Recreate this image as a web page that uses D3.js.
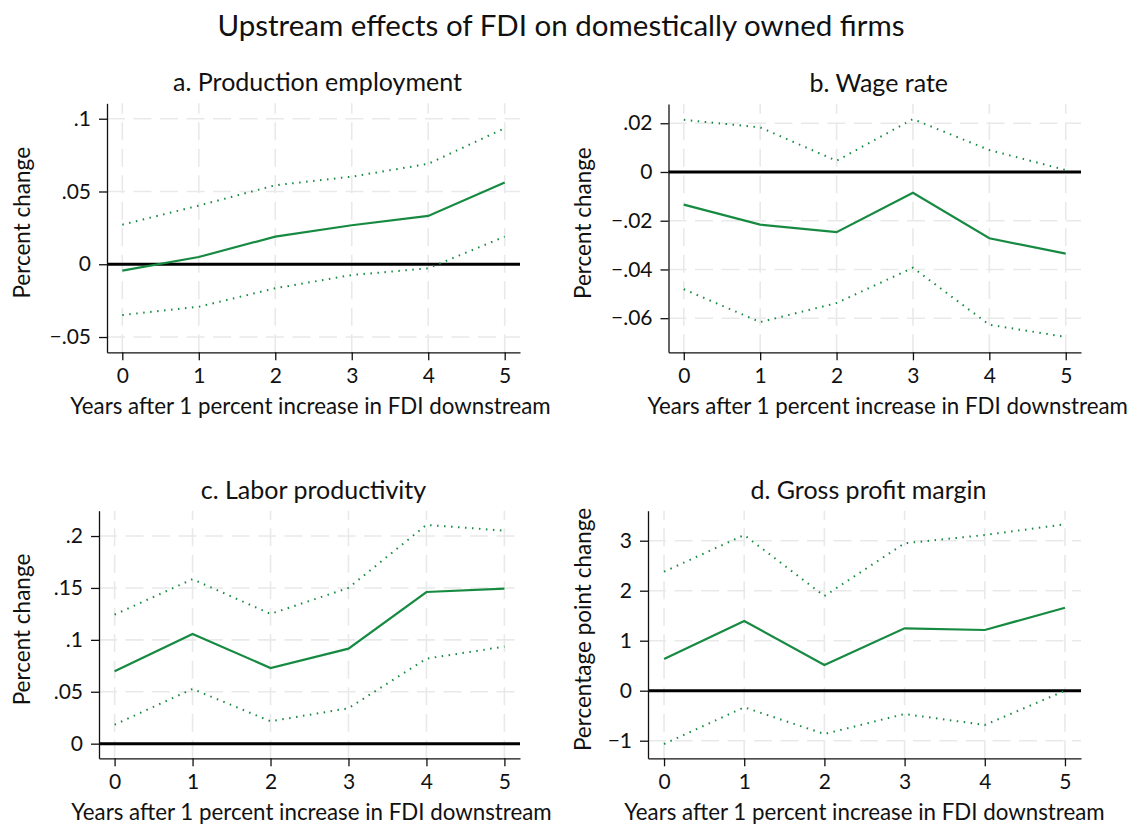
<!DOCTYPE html>
<html>
<head>
<meta charset="utf-8">
<script src="https://cdn.jsdelivr.net/npm/d3@7"></script>
<style>
  body { margin: 0; background: #fff; }
  text { font-family: Lato, "Open Sans", sans-serif; fill: #111; }
</style>
</head>
<body>
<div id="vis"></div>
<script>
// years after the increase
const years = [0, 1, 2, 3, 4, 5];

// a. production employment
const empCoef = [-0.0044, 0.005, 0.019, 0.0268, 0.0332, 0.0561];
const empHi = [0.0272, 0.0403, 0.0543, 0.0602, 0.069, 0.0935];
const empLo = [-0.0349, -0.0292, -0.0165, -0.0074, -0.0028, 0.019];
const empTicks = [-0.05, 0, 0.05, 0.1];

// b. wage rate
const wageCoef = [-0.0134, -0.0216, -0.0247, -0.0085, -0.0272, -0.0335];
const wageHi = [0.0214, 0.0183, 0.0046, 0.0217, 0.009, 0.0008];
const wageLo = [-0.0481, -0.0616, -0.0538, -0.0393, -0.0627, -0.0677];
const wageTicks = [-0.06, -0.04, -0.02, 0, 0.02];

// c. labor productivity
const prodCoef = [0.0697, 0.1057, 0.0729, 0.0915, 0.1461, 0.1493];
const prodHi = [0.1243, 0.1584, 0.125, 0.15, 0.2107, 0.2052];
const prodLo = [0.0183, 0.0527, 0.0216, 0.0341, 0.0819, 0.0935];
const prodTicks = [0, 0.05, 0.1, 0.15, 0.2];

// d. gross profit margin
const marginCoef = [0.634, 1.394, 0.514, 1.248, 1.214, 1.66];
const marginHi = [2.38, 3.114, 1.894, 2.948, 3.114, 3.328];
const marginLo = [-1.066, -0.332, -0.866, -0.466, -0.686, 0.0];
const marginTicks = [-1, 0, 1, 2, 3];

const title = "Upstream effects of FDI on domestically owned firms";
const xTitle = "Years after 1 percent increase in FDI downstream";

const W = 1133, H = 825;
const green = "#178a42";

// stata style labels: .05, -.05
const fmt = v => v === 0 ? "0" : (v < 0 ? "\u2212" : "") + String(Math.abs(v)).replace(/^0/, "");

const panels = [
  { title: "a. Production employment", yTitle: "Percent change", coef: empCoef, hi: empHi, lo: empLo,
    ticks: empTicks, yDom: [-0.0605, 0.1106], x0: 0, left: 107, right: 520, top: 103.3, bottom: 352.3, xlabDx: -3 },
  { title: "b. Wage rate", yTitle: "Percent change", coef: wageCoef, hi: wageHi, lo: wageLo,
    ticks: wageTicks, yDom: [-0.074, 0.0279], x0: 561, left: 668.5, right: 1081, top: 104, bottom: 352.3, xlabDx: 13 },
  { title: "c. Labor productivity", yTitle: "Percent change", coef: prodCoef, hi: prodHi, lo: prodLo,
    ticks: prodTicks, yDom: [-0.0141, 0.2244], x0: 0, left: 99, right: 520, top: 510.7, bottom: 758.3, xlabDx: 2 },
  { title: "d. Gross profit margin", yTitle: "Percentage point change", coef: marginCoef, hi: marginHi, lo: marginLo,
    ticks: marginTicks, yDom: [-1.352, 3.6], x0: 561, left: 648, right: 1081, top: 510.7, bottom: 758.3, xlabDx: 0 }
];

const svg = d3.select("#vis").append("svg")
  .attr("width", W)
  .attr("height", H);

svg.append("rect").attr("width", W).attr("height", H).attr("fill", "#fff");

svg.append("text")
  .attr("x", 561)
  .attr("y", 36)
  .attr("text-anchor", "middle")
  .attr("font-size", 29.5)
  .text(title);

panels.forEach(p => {
  const x = d3.scaleLinear().domain([-0.2, 5.2]).range([p.left, p.right]);
  const y = d3.scaleLinear().domain(p.yDom).range([p.bottom, p.top]);
  const g = svg.append("g");

  // grid
  g.selectAll(".hgrid").data(p.ticks.filter(t => t !== 0)).join("line")
    .attr("x1", p.left).attr("x2", p.right)
    .attr("y1", d => y(d)).attr("y2", d => y(d))
    .attr("stroke", "#e9e9e9").attr("stroke-width", 1.6)
    .attr("stroke-dasharray", "18,8.5");
  g.selectAll(".vgrid").data(years).join("line")
    .attr("x1", d => x(d)).attr("x2", d => x(d))
    .attr("y1", p.bottom).attr("y2", p.top)
    .attr("stroke", "#e9e9e9").attr("stroke-width", 1.6)
    .attr("stroke-dasharray", "18,8.5");

  // zero line
  g.append("line")
    .attr("x1", p.left).attr("x2", p.right)
    .attr("y1", y(0)).attr("y2", y(0))
    .attr("stroke", "#000").attr("stroke-width", 3);

  const ln = arr => d3.line().x((d, i) => x(years[i])).y(d => y(d))(arr);

  [p.hi, p.lo].forEach(band => {
    g.append("path")
      .attr("d", ln(band))
      .attr("fill", "none")
      .attr("stroke", green)
      .attr("stroke-width", 2)
      .attr("stroke-dasharray", "1.5,5.5");
  });

  g.append("path")
    .attr("d", ln(p.coef))
    .attr("fill", "none")
    .attr("stroke", green)
    .attr("stroke-width", 2.2);

  // axes
  const ya = g.append("g")
    .attr("transform", `translate(${p.left},0)`)
    .call(d3.axisLeft(y).tickValues(p.ticks).tickFormat(fmt).tickSize(8).tickSizeOuter(0).tickPadding(8));
  const xa = g.append("g")
    .attr("transform", `translate(0,${p.bottom})`)
    .call(d3.axisBottom(x).tickValues(years).tickFormat(d3.format("d")).tickSize(8).tickSizeOuter(0).tickPadding(7.5));
  [ya, xa].forEach(a => {
    a.selectAll("path, line").attr("stroke", "#111").attr("stroke-width", 1.3);
    a.selectAll("text").attr("font-size", 21).attr("font-family", "Lato, sans-serif").attr("fill", "#111");
  });

  g.append("text")
    .attr("x", (p.left + p.right) / 2 + 4)
    .attr("y", p.top - 12)
    .attr("text-anchor", "middle")
    .attr("font-size", 25)
    .text(p.title);

  g.append("text")
    .attr("x", (p.left + p.right) / 2 + p.xlabDx)
    .attr("y", p.bottom + 62)
    .attr("text-anchor", "middle")
    .attr("font-size", 22.3)
    .text(xTitle);

  g.append("text")
    .attr("transform", `translate(${p.x0 + 30},${(p.top + p.bottom) / 2 - 5}) rotate(-90)`)
    .attr("text-anchor", "middle")
    .attr("font-size", 22.5)
    .text(p.yTitle);
});
</script>
</body>
</html>
